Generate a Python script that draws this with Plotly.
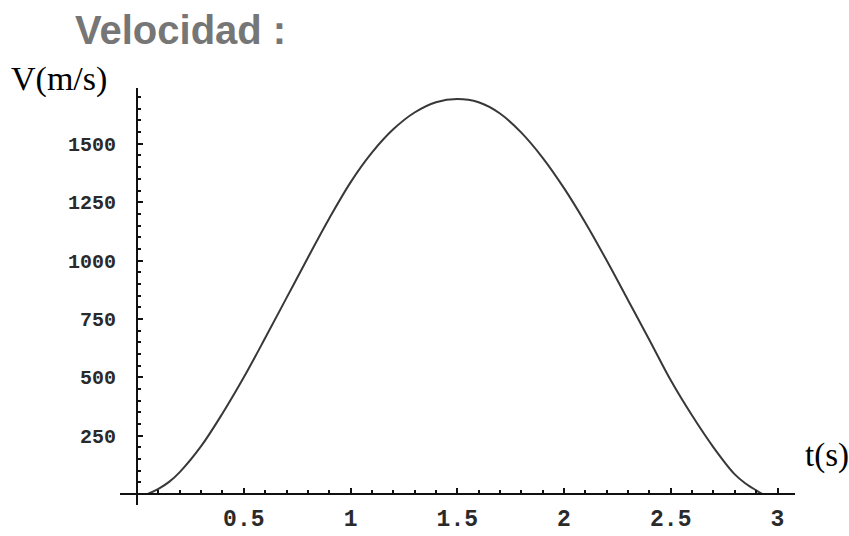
import plotly.graph_objects as go

# Velocity profile samples: time (s) and velocity (m/s)
tiempo = [0.05, 0.1, 0.15, 0.2, 0.3, 0.4, 0.5, 0.6, 0.7, 0.8, 0.9, 1.0, 1.1, 1.2, 1.3, 1.4,
          1.5, 1.6, 1.7, 1.8, 1.9, 2.0, 2.1, 2.2, 2.3, 2.4, 2.5, 2.6, 2.7, 2.8, 2.85, 2.9, 2.93]
velocidad = [0, 22, 52, 94, 205, 345, 500, 668, 840, 1012, 1180, 1335, 1462, 1562, 1634, 1678,
             1692, 1678, 1630, 1548, 1440, 1310, 1162, 1000, 830, 660, 487, 336, 200, 84, 45, 16, 0]

x_ticks = [0.5, 1, 1.5, 2, 2.5, 3]
x_labels = ["0.5", "1", "1.5", "2", "2.5", "3"]
y_ticks = [250, 500, 750, 1000, 1250, 1500]
y_labels = ["250", "500", "750", "1000", "1250", "1500"]

x_range = [-0.08, 3.082]
y_range = [-47, 1739]

W, H = 849, 536
ML, MR, MT, MB = 120, 54, 88, 31

x_tick_font = dict(family="Liberation Mono", size=23, color="#2a2a2a", weight="bold")
y_tick_font = dict(family="Liberation Mono", size=20, color="#2a2a2a", weight="bold")

fig = go.Figure()
fig.add_trace(go.Scatter(
    x=tiempo, y=velocidad, mode="lines",
    line=dict(color="#383838", width=2, shape="spline", smoothing=1.0),
    hoverinfo="skip", showlegend=False,
))

# axes cross at the origin
y_axis_pos = (0 - x_range[0]) / (x_range[1] - x_range[0])
x_axis_pos = (0 - y_range[0]) / (y_range[1] - y_range[0])

PW, PH = W - ML - MR, H - MT - MB

fig.update_layout(
    width=W, height=H,
    margin=dict(l=ML, r=MR, t=MT, b=MB, autoexpand=False),
    paper_bgcolor="white", plot_bgcolor="white",
    title=dict(text="Velocidad :", xref="container", yref="container",
               x=75 / W, xanchor="left", y=1 - 30 / H, yanchor="middle",
               font=dict(family="Liberation Sans", size=40, color="#767676", weight="bold")),
    xaxis=dict(range=x_range, anchor="free", position=x_axis_pos,
               showgrid=False, zeroline=False, showline=True, linecolor="#111", linewidth=2,
               tickmode="array", tickvals=x_ticks, ticktext=x_labels,
               ticks="inside", ticklen=5, tickwidth=2, tickcolor="#111",
               minor=dict(dtick=0.1, tick0=0, ticks="inside", ticklen=3, tickwidth=1.5,
                          tickcolor="#111", showgrid=False),
               tickfont=x_tick_font, ticklabelstandoff=3, automargin=False),
    yaxis=dict(range=y_range, anchor="free", position=y_axis_pos,
               showgrid=False, zeroline=False, showline=True, linecolor="#111", linewidth=2,
               tickmode="array", tickvals=y_ticks, ticktext=y_labels,
               ticks="inside", ticklen=5, tickwidth=2, tickcolor="#111",
               minor=dict(dtick=50, tick0=0, ticks="inside", ticklen=3, tickwidth=1.5,
                          tickcolor="#111", showgrid=False),
               tickfont=y_tick_font, ticklabelstandoff=16, automargin=False),
    annotations=[
        dict(text="V(m/s)", xref="paper", yref="paper",
             x=(9 - ML) / PW, xanchor="left",
             y=(H - MB - 79) / PH, yanchor="middle",
             showarrow=False, font=dict(family="Liberation Serif", size=34, color="black")),
        dict(text="t(s)", xref="paper", yref="paper",
             x=(803 - ML) / PW, xanchor="left",
             y=(H - MB - 455) / PH, yanchor="middle",
             showarrow=False, font=dict(family="Liberation Serif", size=33, color="black")),
    ],
)

fig.write_html("out.html")
